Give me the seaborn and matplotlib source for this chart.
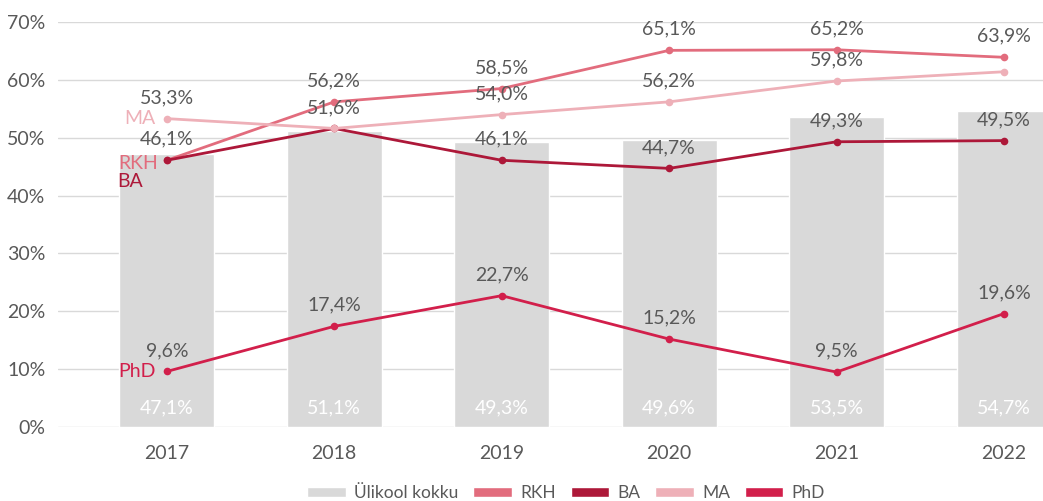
import numpy as np
import pandas as pd
import matplotlib
matplotlib.use("Agg")
import matplotlib.pyplot as plt
from matplotlib.patches import Patch
import seaborn as sns

years = ["2017", "2018", "2019", "2020", "2021", "2022"]
ulikool = [47.1, 51.1, 49.3, 49.6, 53.5, 54.7]
rkh = [46.1, 56.2, 58.5, 65.1, 65.2, 63.9]
ba = [46.1, 51.6, 46.1, 44.7, 49.3, 49.5]
ma = [53.3, 51.6, 54.0, 56.2, 59.8, 61.4]
phd = [9.6, 17.4, 22.7, 15.2, 9.5, 19.6]

series_names = ["RKH", "BA", "MA", "PhD"]
series_values = [rkh, ba, ma, phd]
colors = {"Ülikool kokku": "#D9D9D9", "RKH": "#E26C7D", "BA": "#AD1839",
          "MA": "#EEB0B8", "PhD": "#D21F4B"}
# which values get a data label
label_show = {
    "RKH": [True, True, True, True, True, True],
    "BA": [False, False, True, True, True, True],
    "MA": [True, True, True, True, True, False],
    "PhD": [True, True, True, True, True, True],
}

sns.set_theme(style="white")
plt.rcParams["font.family"] = ["Lato", "DejaVu Sans"]

fig = plt.figure(figsize=(10.43, 5.01), dpi=100)
ax = fig.add_axes([58 / 1043, 74 / 501, (1043 - 58) / 1043, 405 / 501])

bar_df = pd.DataFrame({"year": years, "value": ulikool})
sns.barplot(data=bar_df, x="year", y="value", color=colors["Ülikool kokku"],
            width=0.567, saturation=1, ax=ax, zorder=2)

long = pd.DataFrame({
    "x": np.tile(np.arange(len(years)), len(series_names)),
    "value": np.concatenate(series_values),
    "series": np.repeat(series_names, len(years)),
})
sns.lineplot(data=long, x="x", y="value", hue="series", palette=colors,
             hue_order=series_names, marker="o", markersize=5.5,
             markeredgewidth=0, linewidth=2, ax=ax, legend=False, zorder=3)

text_gray = "#595959"
fs = 14

def fmt(v):
    return f"{v:.1f}%".replace(".", ",")

# bar labels
for i, v in enumerate(ulikool):
    ax.text(i, 3.3, fmt(v), color="white", ha="center", va="center", fontsize=fs, zorder=5)

# line labels
for name, vals in zip(series_names, series_values):
    for i, v in enumerate(vals):
        if label_show[name][i]:
            ax.annotate(fmt(v), (i, v), xytext=(0, 9),
                        textcoords="offset points", ha="center", va="bottom",
                        color=text_gray, fontsize=fs, zorder=5)

# series name labels at first point
ax.annotate("MA", (0, ma[0]), xytext=(-8, 0), textcoords="offset points",
            ha="right", va="center", color=colors["MA"], fontsize=fs, zorder=5)
ax.annotate("RKH", (0, rkh[0]), xytext=(-6, -2), textcoords="offset points",
            ha="right", va="center", color=colors["RKH"], fontsize=fs, zorder=5)
ax.annotate("BA", (0, ba[0]), xytext=(-17, -15), textcoords="offset points",
            ha="right", va="center", color=colors["BA"], fontsize=fs, zorder=5)
ax.annotate("PhD", (0, phd[0]), xytext=(-8, 0), textcoords="offset points",
            ha="right", va="center", color=colors["PhD"], fontsize=fs, zorder=5)

ax.set_xlim(-0.65, 5.233)
ax.set_ylim(0, 70)
ax.set_yticks(np.arange(0, 71, 10))
ax.set_yticklabels([f"{t}%" for t in range(0, 71, 10)])
ax.tick_params(axis="both", colors=text_gray, labelsize=fs, length=0)
ax.tick_params(axis="x", pad=13)
ax.tick_params(axis="y", pad=9)
ax.yaxis.grid(True, color="#D9D9D9", linewidth=1, zorder=0)
ax.set_axisbelow(True)
for s in ax.spines.values():
    s.set_visible(False)
ax.set_xlabel("")
ax.set_ylabel("")

handles = [Patch(facecolor=colors["Ülikool kokku"], label="Ülikool kokku")] + \
          [Patch(facecolor=colors[n], label=n) for n in series_names]
fig.legend(handles=handles, loc="center", bbox_to_anchor=(0.543, 0.016),
           ncol=5, frameon=False, fontsize=12.5, labelcolor=text_gray,
           handlelength=2.2, handleheight=0.55, handletextpad=0.5,
           columnspacing=0.85, borderpad=0.2)

fig.savefig("out.png", dpi=100)
